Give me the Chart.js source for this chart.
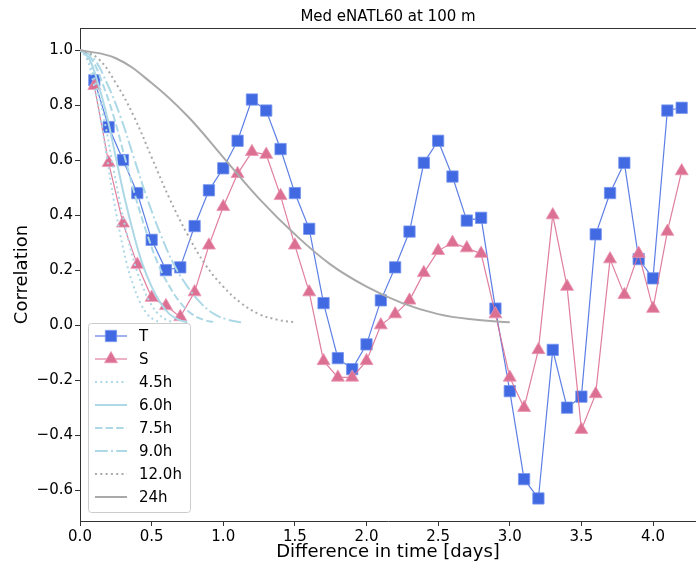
<!DOCTYPE html>
<html>
<head>
<meta charset="utf-8">
<script src="https://cdn.jsdelivr.net/npm/chart.js@4.4.0/dist/chart.umd.min.js"></script>
<style>
  html, body { margin: 0; padding: 0; background: #fff; }
  #wrap { width: 696px; height: 565px; }
</style>
</head>
<body>
<div id="wrap"><canvas id="corrChart" width="696" height="565"></canvas></div>
<script>
// time lag in days
const lagDays = [0.1, 0.2, 0.3, 0.4, 0.5, 0.6, 0.7, 0.8, 0.9, 1.0,
                 1.1, 1.2, 1.3, 1.4, 1.5, 1.6, 1.7, 1.8, 1.9, 2.0,
                 2.1, 2.2, 2.3, 2.4, 2.5, 2.6, 2.7, 2.8, 2.9, 3.0,
                 3.1, 3.2, 3.3, 3.4, 3.5, 3.6, 3.7, 3.8, 3.9, 4.0,
                 4.1, 4.2];

const corrT = [0.89, 0.72, 0.60, 0.48, 0.31, 0.20, 0.21, 0.36, 0.49, 0.57,
               0.67, 0.82, 0.78, 0.64, 0.48, 0.35, 0.08, -0.12, -0.16, -0.07,
               0.09, 0.21, 0.34, 0.59, 0.67, 0.54, 0.38, 0.39, 0.06, -0.24,
               -0.56, -0.63, -0.09, -0.30, -0.26, 0.33, 0.48, 0.59, 0.24, 0.17,
               0.78, 0.79];

const corrS = [0.87, 0.59, 0.37, 0.22, 0.10, 0.07, 0.03, 0.12, 0.29, 0.43,
               0.55, 0.63, 0.62, 0.47, 0.29, 0.12, -0.13, -0.19, -0.19, -0.13,
               0.00, 0.04, 0.09, 0.19, 0.27, 0.30, 0.28, 0.26, 0.04, -0.19,
               -0.30, -0.09, 0.40, 0.14, -0.38, -0.25, 0.24, 0.11, 0.26, 0.06,
               0.34, 0.56];

// reference decay curves (x in days)
const h45X = [0, 0.047, 0.094, 0.141, 0.1875, 0.234, 0.281, 0.328, 0.375, 0.422, 0.469, 0.516, 0.5625];
const h45Y = [1.00, 0.97, 0.88, 0.76, 0.61, 0.46, 0.33, 0.22, 0.14, 0.08, 0.04, 0.02, 0.01];

// second, unlabelled dotted curve between 4.5h and 6.0h
const extraX = [0, 0.055, 0.109, 0.164, 0.219, 0.273, 0.328, 0.383, 0.438, 0.492, 0.547, 0.602, 0.656];
const extraY = [1.00, 0.97, 0.88, 0.76, 0.61, 0.46, 0.33, 0.22, 0.14, 0.08, 0.04, 0.02, 0.01];

const h60X = [0, 0.0625, 0.125, 0.1875, 0.25, 0.3125, 0.375, 0.4375, 0.5, 0.5625, 0.625, 0.6875, 0.75];
const h60Y = [1.00, 0.97, 0.88, 0.76, 0.61, 0.46, 0.33, 0.22, 0.14, 0.08, 0.04, 0.02, 0.01];

const h75X = [0, 0.078, 0.156, 0.234, 0.3125, 0.391, 0.469, 0.547, 0.625, 0.703, 0.781, 0.859, 0.9375];
const h75Y = [1.00, 0.97, 0.88, 0.76, 0.61, 0.46, 0.33, 0.22, 0.14, 0.08, 0.04, 0.02, 0.01];

const h90X = [0, 0.094, 0.1875, 0.281, 0.375, 0.469, 0.5625, 0.656, 0.75, 0.844, 0.9375, 1.031, 1.125];
const h90Y = [1.00, 0.97, 0.88, 0.76, 0.61, 0.46, 0.33, 0.22, 0.14, 0.08, 0.04, 0.02, 0.01];

const h120X = [0, 0.125, 0.25, 0.375, 0.5, 0.625, 0.75, 0.875, 1.0, 1.125, 1.25, 1.375, 1.5];
const h120Y = [1.00, 0.97, 0.88, 0.76, 0.61, 0.46, 0.33, 0.22, 0.14, 0.08, 0.04, 0.02, 0.01];

const h240X = [0, 0.25, 0.5, 0.75, 1.0, 1.25, 1.5, 1.75, 2.0, 2.25, 2.5, 2.75, 3.0];
const h240Y = [1.00, 0.97, 0.88, 0.76, 0.61, 0.46, 0.33, 0.22, 0.14, 0.08, 0.04, 0.02, 0.01];

const xTicks = [0, 0.5, 1.0, 1.5, 2.0, 2.5, 3.0, 3.5, 4.0];
const yTicks = [-0.6, -0.4, -0.2, 0.0, 0.2, 0.4, 0.6, 0.8, 1.0];

const FONT = '"DejaVu Sans", sans-serif';
const LBLUE = '#add8e6';
const DGRAY = '#a9a9a9';

function pts(xs, ys) {
  return xs.map((x, i) => ({ x: x, y: ys[i] }));
}

function curve(label, xs, ys, color, dash, order) {
  return {
    label: label,
    data: pts(xs, ys),
    borderColor: color,
    backgroundColor: color,
    borderWidth: 2,
    borderDash: dash,
    borderCapStyle: 'butt',
    pointRadius: 0,
    showLine: true,
    tension: 0.4,
    order: order
  };
}

const fmt = v => v.toFixed(1).replace('-', '\u2212');

// legend box + title drawn matplotlib-style inside the axes
const extras = {
  id: 'extras',
  afterDraw(chart) {
    const ctx = chart.ctx;
    const a = chart.chartArea;
    ctx.save();

    // top spine
    ctx.strokeStyle = '#333';
    ctx.lineWidth = 1;
    ctx.beginPath();
    ctx.moveTo(a.left, a.top + 0.5);
    ctx.lineTo(a.right, a.top + 0.5);
    ctx.stroke();

    // title
    ctx.fillStyle = '#000';
    ctx.font = '15px ' + FONT;
    ctx.textAlign = 'center';
    ctx.textBaseline = 'middle';
    ctx.fillText('Med eNATL60 at 100 m', (a.left + a.right) / 2, 17);

    // legend
    const bx = a.left + 8, bw = 102, bh = 189;
    const by = a.bottom - 9 - bh;
    ctx.fillStyle = 'rgba(255,255,255,0.8)';
    ctx.strokeStyle = '#cccccc';
    ctx.beginPath();
    ctx.roundRect(bx + 0.5, by + 0.5, bw, bh, 3);
    ctx.fill();
    ctx.stroke();

    const items = chart.data.datasets.filter(ds => ds.label);
    items.forEach((ds, i) => {
      const y = by + 13 + i * 23;
      ctx.save();
      ctx.strokeStyle = ds.borderColor;
      ctx.lineWidth = ds.borderWidth;
      ctx.setLineDash(ds.borderDash || []);
      ctx.lineCap = 'butt';
      ctx.beginPath();
      ctx.moveTo(bx + 7, y);
      ctx.lineTo(bx + 39, y);
      ctx.stroke();
      ctx.restore();
      if (ds.pointRadius > 0) {
        ctx.save();
        ctx.fillStyle = ds.pointBackgroundColor;
        ctx.strokeStyle = ds.pointBorderColor;
        ctx.lineWidth = ds.pointBorderWidth;
        Chart.helpers.drawPoint(ctx, {
          pointStyle: ds.pointStyle, radius: ds.pointRadius, rotation: 0,
          borderWidth: ds.pointBorderWidth
        }, bx + 23, y);
        ctx.restore();
      }
      ctx.fillStyle = '#000';
      ctx.font = '15px ' + FONT;
      ctx.textAlign = 'left';
      ctx.textBaseline = 'middle';
      ctx.fillText(ds.label, bx + 51, y + 1);
    });
    ctx.restore();
  }
};

new Chart(document.getElementById('corrChart').getContext('2d'), {
  type: 'scatter',
  data: {
    datasets: [
      {
        label: 'T',
        data: pts(lagDays, corrT),
        showLine: true,
        borderColor: 'rgba(65,105,225,0.85)',
        borderWidth: 1.2,
        pointStyle: 'rect',
        pointRadius: 8,
        pointBackgroundColor: '#4169e1',
        pointBorderColor: 'rgba(120,150,240,0.8)',
        pointBorderWidth: 1,
        order: 8
      },
      {
        label: 'S',
        data: pts(lagDays, corrS),
        showLine: true,
        borderColor: 'rgba(219,112,147,0.9)',
        borderWidth: 1.2,
        pointStyle: 'triangle',
        pointRadius: 7.5,
        pointBackgroundColor: '#db7093',
        pointBorderColor: 'rgba(235,150,180,0.8)',
        pointBorderWidth: 1,
        order: 7
      },
      curve('4.5h', h45X, h45Y, LBLUE, [2, 3.3], 6),
      curve('', extraX, extraY, LBLUE, [2, 3.3], 5),
      curve('6.0h', h60X, h60Y, LBLUE, [], 4),
      curve('7.5h', h75X, h75Y, LBLUE, [7.4, 3.2], 3),
      curve('9.0h', h90X, h90Y, LBLUE, [12.8, 3.2, 2, 3.2], 2),
      curve('12.0h', h120X, h120Y, DGRAY, [2, 3.3], 1),
      curve('24h', h240X, h240Y, DGRAY, [], 0)
    ]
  },
  options: {
    responsive: false,
    animation: false,
    devicePixelRatio: 1,
    layout: { autoPadding: false, padding: { top: 28, right: 0, bottom: 0, left: 0 } },
    plugins: {
      legend: { display: false },
      title: { display: false },
      tooltip: { enabled: false }
    },
    scales: {
      x: {
        type: 'linear',
        min: 0,
        max: 4.30,
        afterFit: s => { s.height = 44; s.paddingLeft = 0; s.paddingRight = 0; },
        afterBuildTicks: s => { s.ticks = xTicks.map(v => ({ value: v })); },
        ticks: {
          includeBounds: false,
          callback: v => fmt(v),
          color: '#000',
          font: { family: FONT, size: 15 },
          padding: 2,
          maxRotation: 0
        },
        grid: { drawOnChartArea: false, tickLength: 5, tickColor: '#333' },
        border: { color: '#333', width: 1 },
        title: {
          display: true,
          text: 'Difference in time [days]',
          color: '#000',
          font: { family: FONT, size: 18 },
          padding: { top: 0, bottom: 2 }
        }
      },
      y: {
        min: -0.712,
        max: 1.08,
        afterFit: s => { s.width = 80; s.paddingTop = 0; s.paddingBottom = 0; },
        afterBuildTicks: s => { s.ticks = yTicks.map(v => ({ value: v })); },
        ticks: {
          includeBounds: false,
          callback: v => fmt(v),
          color: '#000',
          font: { family: FONT, size: 15 },
          padding: 2
        },
        grid: { drawOnChartArea: false, tickLength: 5, tickColor: '#333' },
        border: { color: '#333', width: 1 },
        title: {
          display: true,
          text: 'Correlation',
          color: '#000',
          font: { family: FONT, size: 18 },
          padding: { top: 12, bottom: 0 }
        }
      }
    }
  },
  plugins: [extras]
});
</script>
</body>
</html>
